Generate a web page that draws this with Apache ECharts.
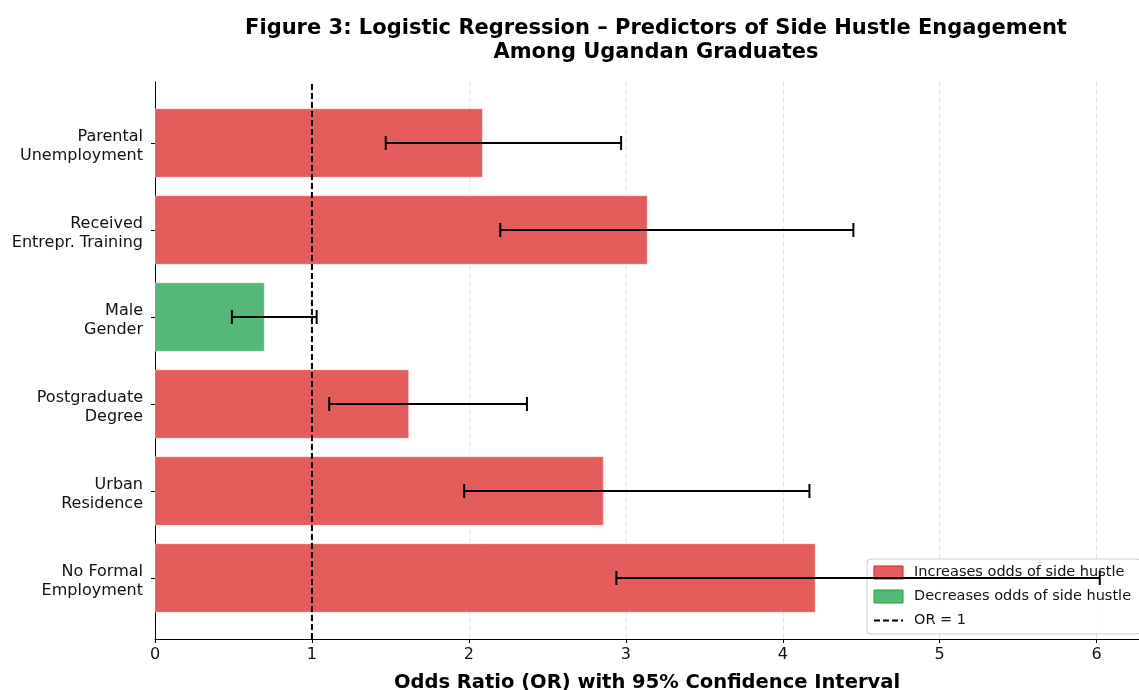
<!DOCTYPE html>
<html>
<head>
<meta charset="utf-8">
<script src="https://cdn.jsdelivr.net/npm/echarts@6/dist/echarts.min.js"></script>
<style>
  html, body { margin: 0; padding: 0; background: #fff; }
  #chart { width: 1139px; height: 690px; }
</style>
</head>
<body>
<div id="chart"></div>
<script>
// Predictors, top to bottom
const predictors = [
  'Parental\nUnemployment',
  'Received\nEntrepr. Training',
  'Male\nGender',
  'Postgraduate\nDegree',
  'Urban\nResidence',
  'No Formal\nEmployment'
];
// Odds ratios and 95% confidence bounds
const oddsRatios = [2.09, 3.14, 0.70, 1.62, 2.86, 4.21];
const ciLower    = [1.47, 2.20, 0.49, 1.11, 1.97, 2.94];
const ciUpper    = [2.97, 4.45, 1.03, 2.37, 4.17, 6.02];
const xTicks = [0, 1, 2, 3, 4, 5, 6];
const refOR = 1;

const RED = 'rgba(222, 56, 56, 0.82)';
const GREEN = 'rgba(46, 170, 90, 0.82)';
const X_MAX = 6.27;
const FONT = 'DejaVu Sans';

const increases = oddsRatios.map(v => (v >= 1 ? v : null));
const decreases = oddsRatios.map(v => (v < 1 ? v : null));
const ciData = predictors.map((p, i) => [i, ciLower[i], ciUpper[i]]);

const chart = echarts.init(document.getElementById('chart'), null, { renderer: 'canvas' });

chart.setOption({
  backgroundColor: '#fff',
  animation: false,
  textStyle: { fontFamily: FONT },
  title: {
    text: 'Figure 3: Logistic Regression – Predictors of Side Hustle Engagement\nAmong Ugandan Graduates',
    left: 651,
    top: 12,
    textAlign: 'center',
    textStyle: { fontFamily: FONT, fontSize: 21, fontWeight: 'bold', color: '#000', lineHeight: 24, align: 'center' }
  },
  legend: {
    orient: 'vertical',
    left: 867,
    top: 559,
    padding: [6, 10, 6, 6],
    itemGap: 9,
    itemWidth: 29,
    itemHeight: 13,
    backgroundColor: 'rgba(255,255,255,0.8)',
    borderColor: '#cccccc',
    borderWidth: 1,
    borderRadius: 4,
    textStyle: { fontFamily: FONT, fontSize: 14.5, color: '#111', padding: [0, 0, 0, 6] },
    data: [
      { name: 'Increases odds of side hustle', icon: 'rect', itemStyle: { borderColor: '#d62728', borderWidth: 1 } },
      { name: 'Decreases odds of side hustle', icon: 'rect', itemStyle: { borderColor: '#2ca02c', borderWidth: 1 } },
      { name: 'OR = 1', itemStyle: { opacity: 0 } }
    ]
  },
  grid: [
    // frame: spines, x scale and reference line
    { left: 155, right: 0, top: 82, bottom: 51, outerBoundsMode: 'none', containLabel: false },
    // bars and confidence intervals
    { left: 155, right: 0, top: 99.5, bottom: 68.5, outerBoundsMode: 'none', containLabel: false }
  ],
  xAxis: [
    {
      type: 'value', gridIndex: 0, min: 0, max: X_MAX, interval: 1,
      axisLine: { show: true, lineStyle: { color: '#000', width: 1 } },
      axisTick: { show: true, length: 4, lineStyle: { color: '#000' } },
      axisLabel: {
        show: true, margin: 8, fontSize: 16, color: '#111', fontFamily: FONT,
        showMaxLabel: false,
        formatter: v => (xTicks.indexOf(v) >= 0 ? String(v) : '')
      },
      splitLine: { show: true, lineStyle: { color: 'rgba(0,0,0,0.1)', type: [5, 3], width: 1 } },
      name: 'Odds Ratio (OR) with 95% Confidence Interval',
      nameLocation: 'middle',
      nameGap: 34,
      nameTextStyle: { fontFamily: FONT, fontSize: 19.5, fontWeight: 'bold', color: '#000' }
    },
    {
      type: 'value', gridIndex: 1, min: 0, max: X_MAX, interval: 1,
      show: false
    }
  ],
  yAxis: [
    {
      type: 'value', gridIndex: 0, min: 0, max: 1,
      axisLine: { show: true, lineStyle: { color: '#000', width: 1 } },
      axisTick: { show: false },
      axisLabel: { show: false },
      splitLine: { show: false }
    },
    {
      type: 'category', gridIndex: 1, inverse: true, data: predictors,
      axisLine: { show: false },
      axisTick: { show: true, alignWithLabel: true, length: 4, lineStyle: { color: '#000' } },
      axisLabel: {
        fontSize: 16, color: '#111', margin: 12, lineHeight: 19, align: 'right', fontFamily: FONT,
        // small spacer line on top nudges the two text lines slightly below the tick
        formatter: v => '{s|}\n' + v,
        rich: { s: { lineHeight: 6, fontSize: 4 } }
      },
      splitLine: { show: false }
    }
  ],
  series: [
    {
      name: 'Increases odds of side hustle',
      type: 'bar', xAxisIndex: 1, yAxisIndex: 1,
      data: increases,
      barWidth: '80%', barGap: '-100%',
      itemStyle: { color: RED, borderColor: 'rgba(255,255,255,0.5)', borderWidth: 1 },
      z: 2
    },
    {
      name: 'Decreases odds of side hustle',
      type: 'bar', xAxisIndex: 1, yAxisIndex: 1,
      data: decreases,
      barWidth: '80%', barGap: '-100%',
      itemStyle: { color: GREEN, borderColor: 'rgba(255,255,255,0.5)', borderWidth: 1 },
      z: 2
    },
    {
      name: 'OR = 1',
      type: 'line', xAxisIndex: 0, yAxisIndex: 0,
      data: [[refOR, 0], [refOR, 1]],
      symbol: 'none',
      itemStyle: { color: '#000' },
      lineStyle: { color: '#000', width: 2, type: [6, 3] },
      z: 3
    },
    {
      name: 'CI',
      type: 'custom', xAxisIndex: 1, yAxisIndex: 1,
      data: ciData,
      z: 4,
      renderItem: function (params, api) {
        const lo = api.coord([api.value(1), api.value(0)]);
        const hi = api.coord([api.value(2), api.value(0)]);
        const cap = 7;
        const style = { stroke: '#000', lineWidth: 2, fill: null };
        return {
          type: 'group',
          children: [
            { type: 'line', shape: { x1: lo[0], y1: lo[1], x2: hi[0], y2: hi[1] }, style: style },
            { type: 'line', shape: { x1: lo[0], y1: lo[1] - cap, x2: lo[0], y2: lo[1] + cap }, style: style },
            { type: 'line', shape: { x1: hi[0], y1: hi[1] - cap, x2: hi[0], y2: hi[1] + cap }, style: style }
          ]
        };
      }
    }
  ]
});
</script>
</body>
</html>
